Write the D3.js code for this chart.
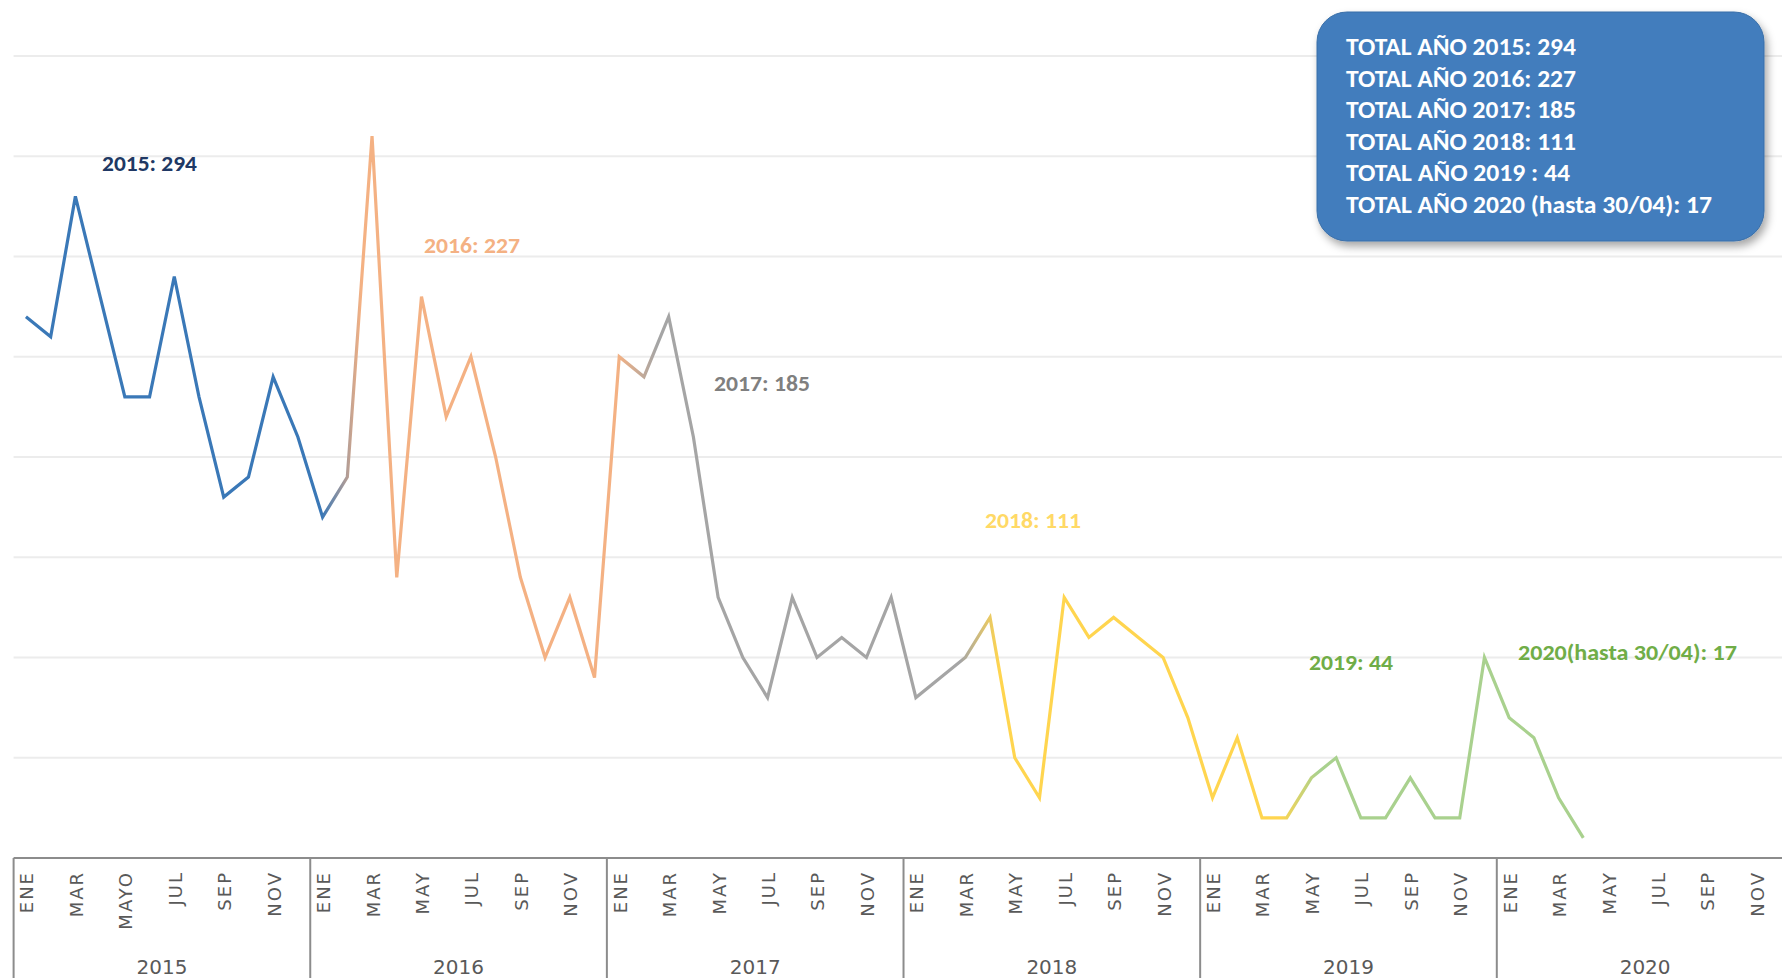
<!DOCTYPE html>
<html>
<head>
<meta charset="utf-8">
<script src="https://cdn.jsdelivr.net/npm/d3@7"></script>
<style>
  html, body { margin: 0; padding: 0; background: #ffffff; }
  svg { display: block; }
</style>
</head>
<body>
<svg id="chart" width="1782" height="978"></svg>
<script>
// ---------------- DATA ----------------
const years = ["2015", "2016", "2017", "2018", "2019", "2020"];
const months = ["ENE","FEB","MAR","ABR","MAY","JUN","JUL","AGO","SEP","OCT","NOV","DIC"];
const tickLabels2015 = ["ENE", "MAR", "MAYO", "JUL", "SEP", "NOV"];
const tickLabels = ["ENE", "MAR", "MAY", "JUL", "SEP", "NOV"];
const values2015 = [27, 26, 33, 28, 23, 23, 29, 23, 18, 19, 24, 21];
const values2016 = [17, 19, 36, 14, 28, 22, 25, 20, 14, 10, 13, 9];
const values2017 = [25, 24, 27, 21, 13, 10, 8, 13, 10, 11, 10, 13];
const values2018 = [8, 9, 10, 12, 5, 3, 13, 11, 12, 11, 10, 7];
const values2019 = [3, 6, 2, 2, 4, 5, 2, 2, 4, 2, 2, 10];
const values2020 = [7, 6, 3, 1];
const yearNotes = ["2015: 294", "2016: 227", "2017: 185", "2018: 111", "2019: 44", "2020(hasta 30/04): 17"];
const totalLines = [
  "TOTAL AÑO 2015: 294",
  "TOTAL AÑO 2016: 227",
  "TOTAL AÑO 2017: 185",
  "TOTAL AÑO 2018: 111",
  "TOTAL AÑO 2019 : 44",
  "TOTAL AÑO 2020 (hasta 30/04): 17"
];

// ---------------- LAYOUT / STYLE ----------------
const W = 1782, H = 978;
const plotLeft = 13.6, monthStep = 24.72;
const axisY = 858, topY = 56;
const labelFont = "Carlito, 'Liberation Sans Narrow', 'Liberation Sans', Arial, sans-serif";
const axisFont = "'DejaVu Sans', Lato, sans-serif";
const noteStyle = [
  {x: 102, y: 171, w: 95, color: "#203864"},
  {x: 424, y: 253, w: 96, color: "#F4B183"},
  {x: 714, y: 391, w: 96, color: "#7F7F7F"},
  {x: 985, y: 528, w: 96, color: "#FFD966"},
  {x: 1309, y: 670, w: 84, color: "#70AD47"},
  {x: 1518, y: 660, w: 219, color: "#70AD47"}
];
const lineStops = [
  {o: 0.00, c: "#3A78B7"}, {o: 0.19, c: "#3A78B7"},
  {o: 0.215, c: "#F4B183"}, {o: 0.38, c: "#F4B183"},
  {o: 0.405, c: "#A5A5A5"}, {o: 0.60, c: "#A5A5A5"},
  {o: 0.625, c: "#FFD54F"}, {o: 0.805, c: "#FFD54F"},
  {o: 0.83, c: "#A9D18E"}, {o: 1.00, c: "#A9D18E"}
];

// ---------------- BUILD ----------------
const series = [values2015, values2016, values2017, values2018, values2019, values2020];
const points = [];
series.forEach((arr, k) => arr.forEach((v, m) => points.push({idx: k * 12 + m, year: years[k], month: months[m], value: v})));

const svg = d3.select("#chart");
const defs = svg.append("defs");

const x = d3.scaleBand()
  .domain(d3.range(years.length * 12))
  .range([plotLeft, plotLeft + years.length * 12 * monthStep])
  .paddingInner(0).paddingOuter(0);
const cx = i => x(i) + x.bandwidth() / 2;
const y = d3.scaleLinear().domain([0, 40]).range([axisY, topY]);

// gridlines
svg.append("g").selectAll("line")
  .data(y.ticks(8).filter(t => t > 0))
  .join("line")
  .attr("x1", plotLeft).attr("x2", W)
  .attr("y1", d => y(d)).attr("y2", d => y(d))
  .attr("stroke", "#ececec").attr("stroke-width", 2);

// gradient for the line
const grad = defs.append("linearGradient")
  .attr("id", "lineGrad")
  .attr("gradientUnits", "userSpaceOnUse")
  .attr("x1", cx(points[0].idx)).attr("x2", cx(points[points.length - 1].idx))
  .attr("y1", 0).attr("y2", 0);
grad.selectAll("stop").data(lineStops).join("stop")
  .attr("offset", d => d.o).attr("stop-color", d => d.c);

// line
const line = d3.line().x(d => cx(d.idx)).y(d => y(d.value));
svg.append("path")
  .datum(points)
  .attr("d", line)
  .attr("fill", "none")
  .attr("stroke", "url(#lineGrad)")
  .attr("stroke-width", 3.2)
  .attr("stroke-linejoin", "miter");

// category axis (multi-level)
const axisG = svg.append("g");
axisG.append("line")
  .attr("x1", plotLeft).attr("x2", W)
  .attr("y1", y(0)).attr("y2", y(0))
  .attr("stroke", "#8c8c8c").attr("stroke-width", 2);
axisG.selectAll("line.sep")
  .data(d3.range(years.length + 1))
  .join("line").attr("class", "sep")
  .attr("x1", k => k < years.length ? x(k * 12) : x(years.length * 12 - 1) + x.bandwidth())
  .attr("x2", k => k < years.length ? x(k * 12) : x(years.length * 12 - 1) + x.bandwidth())
  .attr("y1", y(0)).attr("y2", H)
  .attr("stroke", "#8c8c8c").attr("stroke-width", 2);

const monthTicks = [];
years.forEach((yr, k) => {
  const labs = k === 0 ? tickLabels2015 : tickLabels;
  labs.forEach((t, j) => monthTicks.push({idx: k * 12 + j * 2, text: t}));
});
axisG.selectAll("text.month")
  .data(monthTicks)
  .join("text").attr("class", "month")
  .attr("transform", d => `translate(${cx(d.idx) + 1},${axisY + 13}) rotate(-90)`)
  .attr("text-anchor", "end")
  .attr("dy", "0.36em")
  .attr("font-family", axisFont)
  .attr("font-size", 18)
  .attr("letter-spacing", 2)
  .attr("fill", "#595959")
  .text(d => d.text);

axisG.selectAll("text.year")
  .data(years)
  .join("text").attr("class", "year")
  .attr("x", (d, k) => x(k * 12) + 6 * monthStep)
  .attr("y", 974)
  .attr("text-anchor", "middle")
  .attr("font-family", axisFont)
  .attr("font-size", 20)
  .attr("fill", "#595959")
  .text(d => d);

// year notes
svg.append("g").selectAll("text")
  .data(yearNotes)
  .join("text")
  .attr("x", (d, i) => noteStyle[i].x)
  .attr("y", (d, i) => noteStyle[i].y)
  .attr("font-family", labelFont)
  .attr("font-weight", "bold")
  .attr("font-size", 22)
  .attr("fill", (d, i) => noteStyle[i].color)
  .attr("textLength", (d, i) => noteStyle[i].w)
  .attr("lengthAdjust", "spacingAndGlyphs")
  .text(d => d);

// callout box
const shadow = defs.append("filter").attr("id", "shadow")
  .attr("x", "-10%").attr("y", "-10%").attr("width", "130%").attr("height", "140%");
shadow.append("feDropShadow")
  .attr("dx", 3).attr("dy", 5).attr("stdDeviation", 4)
  .attr("flood-color", "#000").attr("flood-opacity", 0.35);

const box = svg.append("g");
box.append("rect")
  .attr("x", 1317).attr("y", 12)
  .attr("width", 447).attr("height", 229)
  .attr("rx", 30).attr("ry", 30)
  .attr("fill", "#427DBD")
  .attr("stroke", "#3A6FA8").attr("stroke-width", 1)
  .attr("filter", "url(#shadow)");
const lineW = [230, 230, 230, 230, 224, 366];
box.selectAll("text")
  .data(totalLines)
  .join("text")
  .attr("x", 1346)
  .attr("y", (d, i) => 55 + i * 31.5)
  .attr("font-family", labelFont)
  .attr("font-weight", "bold")
  .attr("font-size", 24)
  .attr("fill", "#ffffff")
  .attr("textLength", (d, i) => lineW[i])
  .attr("lengthAdjust", "spacingAndGlyphs")
  .text(d => d);
</script>
</body>
</html>
